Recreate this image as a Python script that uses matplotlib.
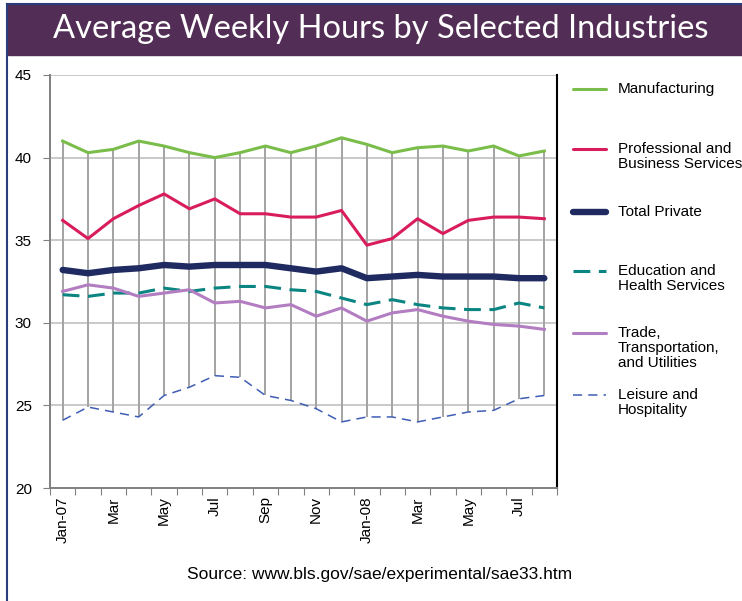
import matplotlib

matplotlib.use("Agg")
import matplotlib.pyplot as plt
from matplotlib.lines import Line2D
from matplotlib.patches import Rectangle
import numpy as np

months = ["Jan-07", "Feb", "Mar", "Apr", "May", "Jun", "Jul", "Aug", "Sep", "Oct",
          "Nov", "Dec", "Jan-08", "Feb", "Mar", "Apr", "May", "Jun", "Jul", "Aug"]
tick_labels = ["Jan-07", "Mar", "May", "Jul", "Sep", "Nov", "Jan-08", "Mar", "May", "Jul"]

manufacturing = [41.0, 40.3, 40.5, 41.0, 40.7, 40.3, 40.0, 40.3, 40.7, 40.3,
                 40.7, 41.2, 40.8, 40.3, 40.6, 40.7, 40.4, 40.7, 40.1, 40.4]
professional = [36.2, 35.1, 36.3, 37.1, 37.8, 36.9, 37.5, 36.6, 36.6, 36.4,
                36.4, 36.8, 34.7, 35.1, 36.3, 35.4, 36.2, 36.4, 36.4, 36.3]
total_private = [33.2, 33.0, 33.2, 33.3, 33.5, 33.4, 33.5, 33.5, 33.5, 33.3,
                 33.1, 33.3, 32.7, 32.8, 32.9, 32.8, 32.8, 32.8, 32.7, 32.7]
education = [31.7, 31.6, 31.8, 31.8, 32.1, 31.9, 32.1, 32.2, 32.2, 32.0,
             31.9, 31.5, 31.1, 31.4, 31.1, 30.9, 30.8, 30.8, 31.2, 30.9]
trade = [31.9, 32.3, 32.1, 31.6, 31.8, 32.0, 31.2, 31.3, 30.9, 31.1,
         30.4, 30.9, 30.1, 30.6, 30.8, 30.4, 30.1, 29.9, 29.8, 29.6]
leisure = [24.1, 24.9, 24.6, 24.3, 25.6, 26.1, 26.8, 26.7, 25.6, 25.3,
           24.8, 24.0, 24.3, 24.3, 24.0, 24.3, 24.6, 24.7, 25.4, 25.6]

series = [
    ("Manufacturing", manufacturing, dict(color="#7bbd4a", lw=2.2, ls="-")),
    ("Professional and\nBusiness Services", professional, dict(color="#d91d5c", lw=2.2, ls="-")),
    ("Total Private", total_private, dict(color="#1f2b60", lw=4.6, ls="-", solid_capstyle="round")),
    ("Education and\nHealth Services", education, dict(color="#0a8582", lw=2.2, ls=(0, (5.5, 2.8)))),
    ("Trade,\nTransportation,\nand Utilities", trade, dict(color="#b37dc2", lw=2.2, ls="-")),
    ("Leisure and\nHospitality", leisure, dict(color="#3f5db4", lw=1.1, ls=(0, (6, 4)))),
]

W, H = 742, 601
fig = plt.figure(figsize=(W / 100, H / 100), dpi=100)
plt.rcParams["font.family"] = ["Liberation Sans", "DejaVu Sans"]

# frame and title bar
fig.patches.append(Rectangle((8 / W, 1 - 55 / H), 1, 50 / H, transform=fig.transFigure,
                             color="#522d55", zorder=0))
fig.add_artist(Line2D([7.5 / W, 1], [1 - 3.5 / H] * 2, color="#2b3c7a", lw=1.5))
fig.add_artist(Line2D([7.5 / W] * 2, [0, 1 - 3.5 / H], color="#2b3c7a", lw=1.5))
fig.text(381 / W, 1 - 29 / H, "Average Weekly Hours by Selected Industries",
         color="white", fontsize=23.5, family=["Lato", "DejaVu Sans"],
         ha="center", va="center")

ax = fig.add_axes([50 / W, 1 - 488 / H, 507 / W, 413 / H])
x = np.arange(len(months))
data = np.array([s[1] for s in series])

ax.set_ylim(20, 45)
ax.set_xlim(-0.5, len(months) - 0.5)
for yv in [25, 30, 35, 40, 45]:
    ax.axhline(yv, color="#c9c9c9", lw=1.4, zorder=1)
ax.vlines(x, data.min(axis=0), data.max(axis=0), color="#a3a3a3", lw=1.4, zorder=2)
for name, vals, style in series:
    ax.plot(x, vals, zorder=3, **style)

ax.set_yticks([20, 25, 30, 35, 40, 45])
ax.tick_params(axis="y", length=5, color="#808080", labelsize=11, pad=8)
ax.set_xticks(np.arange(-0.5, len(months)), labels=[])
ax.tick_params(axis="x", which="major", length=5, color="#808080")
ax.set_xticks(x[::2], labels=tick_labels, minor=True)
ax.tick_params(axis="x", which="minor", length=0, labelsize=11, rotation=90, pad=6)
ax.spines["top"].set_visible(False)
ax.spines["left"].set_color("#808080")
ax.spines["bottom"].set_color("#808080")
ax.spines["left"].set_linewidth(1.4)
ax.spines["bottom"].set_linewidth(1.4)
ax.spines["right"].set_color("black")
ax.spines["right"].set_linewidth(1.5)

# legend drawn by hand to match the irregular spacing
leg_y = [89, 149, 212, 271, 333, 395]
for (name, vals, style), yp in zip(series, leg_y):
    st = dict(style)
    st.pop("solid_capstyle", None)
    fig.add_artist(Line2D([573 / W, 606 / W], [1 - yp / H] * 2,
                          solid_capstyle="round", **st))
    fig.text(618 / W, 1 - (yp - 7) / H, name, fontsize=11, va="top", ha="left",
             linespacing=1.08)

fig.text(380 / W, 1 - 575 / H, "Source: www.bls.gov/sae/experimental/sae33.htm",
         fontsize=12.5, ha="center", va="center")

fig.savefig("out.png", dpi=100)
